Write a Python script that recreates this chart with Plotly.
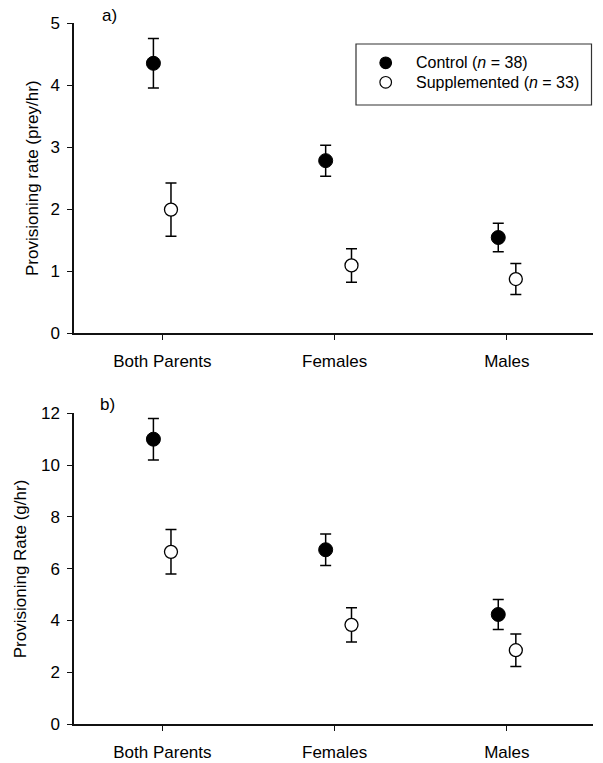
import plotly.graph_objects as go

# ---------------- data ----------------
categories = ["Both Parents", "Females", "Males"]

prey_control = [4.35, 2.78, 1.54]
prey_control_se = [0.40, 0.25, 0.23]
prey_supp = [1.99, 1.09, 0.87]
prey_supp_se = [0.43, 0.27, 0.25]

mass_control = [11.0, 6.73, 4.23]
mass_control_se = [0.80, 0.61, 0.58]
mass_supp = [6.65, 3.83, 2.85]
mass_supp_se = [0.86, 0.66, 0.63]

prey_ticks = [0, 1, 2, 3, 4, 5]
mass_ticks = [0, 2, 4, 6, 8, 10, 12]

legend_labels = ["Control (<i>n</i> = 38)", "Supplemented (<i>n</i> = 33)"]

# ---------------- layout constants ----------------
W, H = 603, 763
ML, MR, MT, MB = 74, 10, 23, 39
PW = W - ML - MR
PH = H - MT - MB

CONTROL_SHIFT = [-0.052, -0.052, -0.05]
SUPP_SHIFT = [0.05, 0.098, 0.052]

FONT = "Liberation Sans, Arial, Helvetica, sans-serif"
FS = 17
LEG_FS = 16


def px_to_paper_x(px):
    return (px - ML) / PW


def px_to_paper_y(py):
    return 1 - (py - MT) / PH


top_dom = [px_to_paper_y(333), 1.0]
bot_dom = [0.0, px_to_paper_y(413.3)]

xc = [i + s for i, s in enumerate(CONTROL_SHIFT)]
xs = [i + s for i, s in enumerate(SUPP_SHIFT)]

fig = go.Figure()


def add_pair(ctrl, ctrl_se, supp, supp_se, xa, ya):
    fig.add_trace(go.Scatter(
        x=xc, y=ctrl, mode="markers", xaxis=xa, yaxis=ya, showlegend=False,
        marker=dict(symbol="circle", size=14, color="black",
                    line=dict(color="black", width=1)),
        error_y=dict(type="data", array=ctrl_se, visible=True,
                     color="black", thickness=1.5, width=5.5),
    ))
    fig.add_trace(go.Scatter(
        x=xs, y=supp, mode="markers", xaxis=xa, yaxis=ya, showlegend=False,
        marker=dict(symbol="circle", size=13, color="white",
                    line=dict(color="black", width=1.3)),
        error_y=dict(type="data", array=supp_se, visible=True,
                     color="black", thickness=1.5, width=5.5),
    ))


add_pair(prey_control, prey_control_se, prey_supp, prey_supp_se, "x", "y")
add_pair(mass_control, mass_control_se, mass_supp, mass_supp_se, "x2", "y2")

xcommon = dict(
    range=[-0.513, 2.5], tickvals=[0, 1, 2], ticktext=categories,
    showline=True, linecolor="#111", linewidth=1.5, ticks="outside",
    ticklen=5, tickwidth=1.2, tickcolor="#111", showgrid=False,
    zeroline=False, tickfont=dict(family=FONT, size=FS, color="black"),
    ticklabelstandoff=7, automargin=False,
)
ycommon = dict(
    showline=True, linecolor="#111", linewidth=1.5, ticks="outside",
    ticklen=5, tickwidth=1.2, tickcolor="#111", showgrid=False,
    zeroline=False, tickfont=dict(family=FONT, size=FS, color="black"),
    ticklabelstandoff=4, automargin=False,
)

fig.update_layout(
    width=W, height=H,
    margin=dict(l=ML, r=MR, t=MT, b=MB),
    paper_bgcolor="white", plot_bgcolor="white",
    showlegend=False,
    xaxis=dict(**xcommon, anchor="y", domain=[0, 1]),
    yaxis=dict(**ycommon, range=[0, 5], tickvals=prey_ticks, domain=top_dom, anchor="x"),
    xaxis2=dict(**xcommon, anchor="y2", domain=[0, 1]),
    yaxis2=dict(**ycommon, range=[0, 12], tickvals=mass_ticks, domain=bot_dom, anchor="x2"),
)

annots = [
    dict(text="Provisioning rate (prey/hr)", x=px_to_paper_x(32),
         y=(top_dom[0] + top_dom[1]) / 2, textangle=-90),
    dict(text="Provisioning Rate (g/hr)", x=px_to_paper_x(20.6),
         y=(bot_dom[0] + bot_dom[1]) / 2, textangle=-90),
    dict(text="a)", x=px_to_paper_x(109), y=px_to_paper_y(15.5)),
    dict(text="b)", x=px_to_paper_x(107), y=px_to_paper_y(405)),
]
for a in annots:
    fig.add_annotation(xref="paper", yref="paper", showarrow=False,
                       xanchor="center", yanchor="middle",
                       font=dict(family=FONT, size=FS, color="black"), **a)

# manual legend (box, symbols, labels)
fig.add_shape(type="rect", xref="paper", yref="paper",
              x0=px_to_paper_x(356), x1=px_to_paper_x(591.5),
              y0=px_to_paper_y(105), y1=px_to_paper_y(44),
              line=dict(color="#333", width=1.2), fillcolor="white")
leg_rows = [62.8, 82.3]
leg_fill = ["black", "white"]
for lbl, row, fill in zip(legend_labels, leg_rows, leg_fill):
    fig.add_shape(type="circle", xref="paper", yref="paper",
                  xsizemode="pixel", ysizemode="pixel",
                  xanchor=px_to_paper_x(385.7), yanchor=px_to_paper_y(row),
                  x0=-5.8, x1=5.8, y0=-5.8, y1=5.8,
                  line=dict(color="black", width=1.2), fillcolor=fill)
    fig.add_annotation(xref="paper", yref="paper", showarrow=False,
                       x=px_to_paper_x(414), y=px_to_paper_y(row),
                       xanchor="left", yanchor="middle", text=lbl,
                       font=dict(family=FONT, size=LEG_FS, color="black"))

fig.write_html("out.html")
